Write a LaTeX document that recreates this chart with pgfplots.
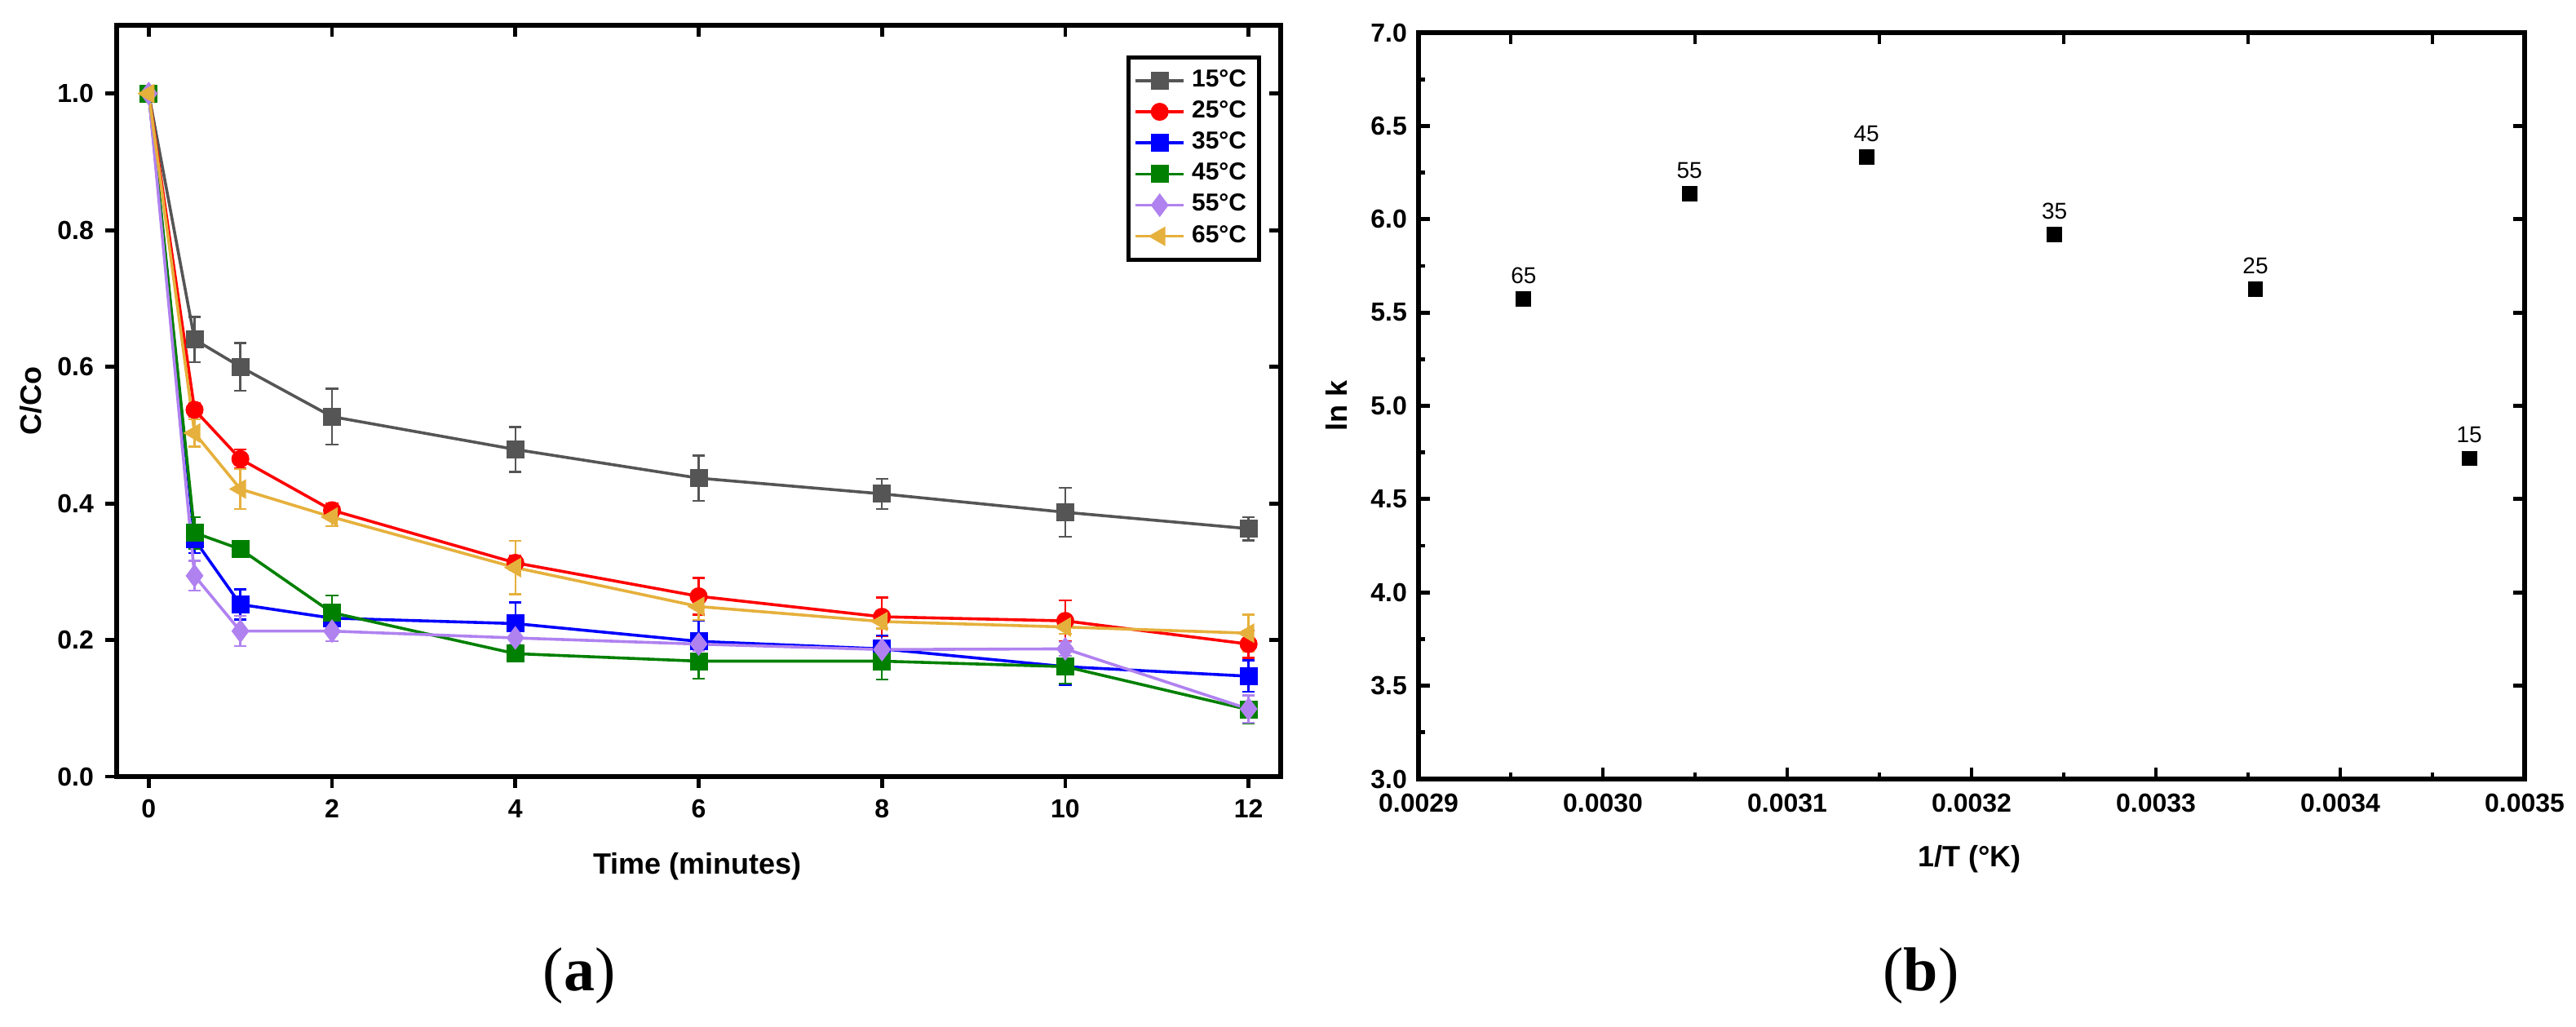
\documentclass[border=0pt]{standalone}
\usepackage{fontspec}
\setmainfont{Liberation Sans}
\newfontfamily\serif{Liberation Serif}
\usepackage{pgfplots}
\usepackage{pgfplotstable}
\pgfplotsset{compat=1.18}
\definecolor{c15}{RGB}{85,85,85}
\definecolor{c25}{RGB}{255,0,0}
\definecolor{c35}{RGB}{0,0,255}
\definecolor{c45}{RGB}{0,128,0}
\definecolor{c55}{RGB}{176,130,240}
\definecolor{c65}{RGB}{230,176,60}

\pgfplotstableread{
t v e
0 1.000 0
0.5 0.640 0.033
1 0.600 0.035
2 0.527 0.041
4 0.479 0.033
6 0.437 0.033
8 0.414 0.022
10 0.387 0.036
12 0.363 0.017
}\tA
\pgfplotstableread{
t v e
0 1.000 0
0.5 0.537 0.010
1 0.465 0.014
2 0.390 0.010
4 0.313 0.010
6 0.264 0.027
8 0.234 0.028
10 0.228 0.030
12 0.194 0.020
}\tB
\pgfplotstableread{
t v e
0 1.000 0
0.5 0.347 0.020
1 0.252 0.022
2 0.232 0.010
4 0.224 0.031
6 0.198 0.030
8 0.187 0.020
10 0.161 0.027
12 0.147 0.023
}\tC
\pgfplotstableread{
t v e
0 1.000 0
0.5 0.357 0.023
1 0.333 0.008
2 0.240 0.025
4 0.180 0.010
6 0.169 0.026
8 0.169 0.027
10 0.161 0.025
12 0.098 0.020
}\tD
\pgfplotstableread{
t v e
0 1.000 0
0.5 0.294 0.022
1 0.213 0.022
2 0.213 0.015
4 0.203 0.010
6 0.194 0.010
8 0.186 0.010
10 0.187 0.010
12 0.099 0.020
}\tE
\pgfplotstableread{
t v e
0 1.000 0
0.5 0.503 0.020
1 0.421 0.029
2 0.380 0.013
4 0.306 0.039
6 0.249 0.020
8 0.227 0.010
10 0.219 0.010
12 0.210 0.027
}\tF
\pgfplotstableread{
x y lab
0.002957 5.571 65
0.003047 6.138 55
0.003143 6.334 45
0.003245 5.918 35
0.003354 5.625 25
0.003470 4.718 15
}\tR

\pgfplotsset{
  myframe/.style={
    scale only axis,
    axis line style={line width=1.5pt, line cap=rect},
    tick style={line width=1.2pt, black},
    major tick length=3.5pt,
    minor tick length=2pt,
    /pgf/number format/assume math mode=true,
    ticklabel style={font=\bfseries\fontsize{8}{9.6}\selectfont},
    label style={font=\bfseries\fontsize{9}{10.8}\selectfont},
  },
  errs/.style={error bars/.cd, y dir=both, y explicit,
    error bar style={line width=0.6pt},
    error mark=-,
    error mark options={rotate=90, line width=0.6pt, mark size=1.9pt}},
}

\begin{document}
\begin{tikzpicture}
\useasboundingbox (0,0) rectangle (789.5pt,314.5pt);
% ---------- (a) ----------
\begin{axis}[myframe,
  at={(35.75pt,76.5pt)}, anchor=south west,
  width=356.75pt, height=230.25pt,
  xmin=-0.35, xmax=12.35, ymin=0, ymax=1.1,
  xtick={0,2,4,6,8,10,12},
  xticklabel={\pgfmathprintnumber{\tick}},
  ytick={0,0.2,0.4,0.6,0.8,1.0},
  yticklabel={\pgfmathprintnumber[fixed,fixed zerofill,precision=1]{\tick}},
  xtick pos=left, ytick pos=left, tick align=outside,
  xlabel={Time (minutes)}, ylabel={C/Co},
  xlabel style={at={(axis description cs:0.499,-0.12)}, anchor=center},
  ylabel style={at={(axis description cs:-0.0736,0.5)}, anchor=center},
  legend style={at={(axis description cs:0.983,0.960)}, anchor=north east,
    draw=black, line width=1.2pt, font=\bfseries\fontsize{7.5}{9}\selectfont,
    row sep=-1.2pt, inner sep=1.8pt, cells={anchor=west}},
  legend image code/.code={\draw[mark repeat=2,mark phase=2] plot coordinates {(0cm,0cm) (0.26cm,0cm) (0.52cm,0cm)};},
]
\addplot[c15, line width=0.9pt, mark=square*, mark size=2.3pt, errs] table[x=t,y=v,y error=e]{\tA};
\addlegendentry{15°C}
\addplot[c25, line width=0.9pt, mark=*, mark size=2.3pt, errs] table[x=t,y=v,y error=e]{\tB};
\addlegendentry{25°C}
\addplot[c35, line width=0.9pt, mark=square*, mark size=2.3pt, errs] table[x=t,y=v,y error=e]{\tC};
\addlegendentry{35°C}
\addplot[c45, line width=0.9pt, mark=square*, mark size=2.3pt, errs] table[x=t,y=v,y error=e]{\tD};
\addlegendentry{45°C}
\addplot[c55, line width=0.9pt, mark=diamond*, mark size=2.9pt, errs] table[x=t,y=v,y error=e]{\tE};
\addlegendentry{55°C}
\addplot[c65, line width=0.9pt, mark=triangle*, mark size=2.6pt, mark options={rotate=90}, errs] table[x=t,y=v,y error=e]{\tF};
\addlegendentry{65°C}
\end{axis}
\begin{axis}[myframe,
  at={(35.75pt,76.5pt)}, anchor=south west,
  width=356.75pt, height=230.25pt,
  xmin=-0.35, xmax=12.35, ymin=0, ymax=1.1,
  xtick={0,2,4,6,8,10,12}, ytick={0.2,0.4,0.6,0.8,1.0},
  xticklabels={}, yticklabels={},
  xtick pos=right, ytick pos=right, tick align=inside,
]
\end{axis}
% ---------- (b) ----------
\begin{axis}[myframe,
  at={(434.75pt,75.75pt)}, anchor=south west,
  width=339pt, height=228.75pt,
  xmin=0.0029, xmax=0.0035, ymin=3, ymax=7,
  scaled x ticks=false,
  xtick={0.0029,0.0030,0.0031,0.0032,0.0033,0.0034,0.0035},
  minor xtick={0.00295,0.00305,0.00315,0.00325,0.00335,0.00345},
  xticklabel={\pgfmathprintnumber[fixed,fixed zerofill,precision=4]{\tick}},
  ytick={3,3.5,4,4.5,5,5.5,6,6.5,7},
  minor ytick={3.25,3.75,4.25,4.75,5.25,5.75,6.25,6.75},
  yticklabel={\pgfmathprintnumber[fixed,fixed zerofill,precision=1]{\tick}},
  xtick pos=left, ytick pos=left, tick align=inside,
  xticklabel style={yshift=-1pt},
  xlabel={1/T (°K)}, ylabel={ln k},
  xlabel style={at={(axis description cs:0.498,-0.107)}, anchor=center},
  ylabel style={at={(axis description cs:-0.0745,0.5)}, anchor=center},
]
\addplot[only marks, mark=square*, mark size=2.15pt, black,
  nodes near coords, point meta=explicit symbolic,
  every node near coord/.style={font=\fontsize{7}{8.4}\selectfont, anchor=south, inner sep=0pt, yshift=4.5pt, black}]
  table[x=x,y=y,meta=lab]{\tR};
\end{axis}
\begin{axis}[myframe,
  at={(434.75pt,75.75pt)}, anchor=south west,
  width=339pt, height=228.75pt,
  xmin=0.0029, xmax=0.0035, ymin=3, ymax=7,
  scaled x ticks=false,
  xtick={0.00295,0.00305,0.00315,0.00325,0.00335,0.00345},
  ytick={3.5,4,4.5,5,5.5,6,6.5},
  xticklabels={}, yticklabels={},
  xtick pos=right, ytick pos=right, tick align=inside,
]
\end{axis}
\node[font=\serif\fontsize{19}{22}\selectfont] at (177.5pt,15.5pt) {(\textbf{a})};
\node[font=\serif\fontsize{19}{22}\selectfont] at (588.75pt,15.5pt) {(\textbf{b})};
\end{tikzpicture}
\end{document}
